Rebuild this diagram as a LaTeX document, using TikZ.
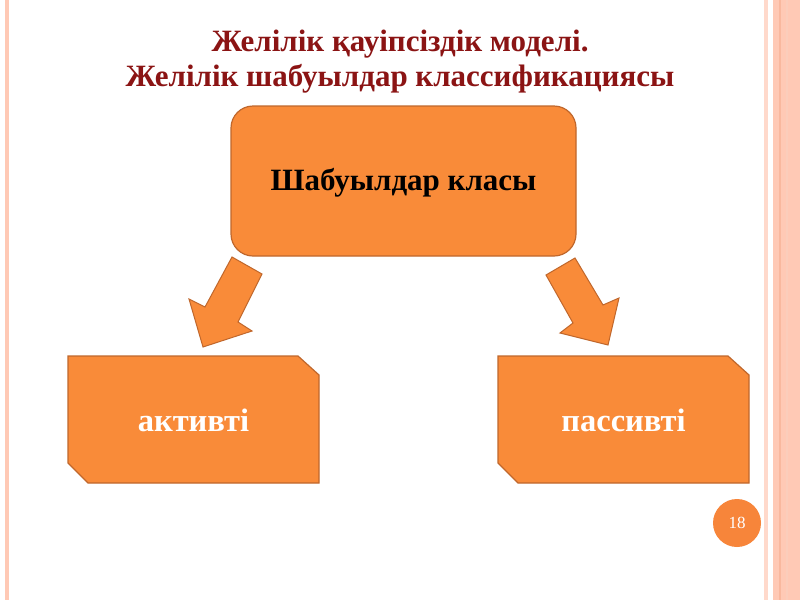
\documentclass[tikz,border=0pt]{standalone}
\usepackage{fontspec}
\setmainfont{Liberation Serif}
\begin{document}
\begin{tikzpicture}[x=1pt,y=-1pt,
  orangefill/.style={fill=boxorange,draw=boxedge,line width=1.2pt},
  boxtext/.style={font=\bfseries\fontsize{31}{36}\selectfont},
  smalltext/.style={font=\bfseries\fontsize{32.5}{36}\selectfont,text=white},
  titletext/.style={font=\bfseries\fontsize{31}{35}\selectfont,text=titlered,align=center}]
\definecolor{boxorange}{HTML}{F98B39}
\definecolor{boxedge}{HTML}{C0672C}
\definecolor{titlered}{HTML}{8B1414}
\definecolor{stripe}{HTML}{FFC9B5}
\definecolor{stripedark}{HTML}{F9B89E}
\definecolor{numorange}{HTML}{F7853A}
\useasboundingbox (0,0) rectangle (800,600);
\fill[white] (0,0) rectangle (800,600);
% decorative stripes
\fill[stripe] (5,0) rectangle (9,600);
\fill[stripe!70] (764,0) rectangle (768,600);
\fill[stripe] (773,0) rectangle (800,600);
\fill[stripedark] (779,0) rectangle (781,600);
\fill[stripedark!70] (786,0) rectangle (788,600);
% title
\node[titletext] (title) at (400,62) {Желілік қауіпсіздік моделі.\\Желілік шабуылдар классификациясы};
% top box
\draw[orangefill,rounded corners=22] (231,106) rectangle (576,256);
\node[boxtext] (top) at (403.5,183) {Шабуылдар класы};
% bottom boxes
\draw[orangefill] (68,356) -- (298,356) -- (319,375) -- (319,483) -- (88,483) -- (68,463) -- cycle;
\node[smalltext] (active) at (193.5,420) {активті};
\draw[orangefill] (498,356) -- (728,356) -- (749,375) -- (749,483) -- (518,483) -- (498,463) -- cycle;
\node[smalltext] (passive) at (623.5,420) {пассивті};
% block arrows
\draw[orangefill,line width=1pt] (232,257) -- (262,274) -- (238,322) -- (252,331) -- (203,347) -- (189,299) -- (205,307) -- cycle;
\draw[orangefill,line width=1pt] (575,258) -- (546,275) -- (573,323) -- (560,333) -- (608,345) -- (619,298) -- (603,305) -- cycle;
% page number
\fill[numorange] (737,523) circle (24);
\node[text=white,font=\fontsize{17}{18}\selectfont] (num) at (737,523) {18};
\end{tikzpicture}
\end{document}
